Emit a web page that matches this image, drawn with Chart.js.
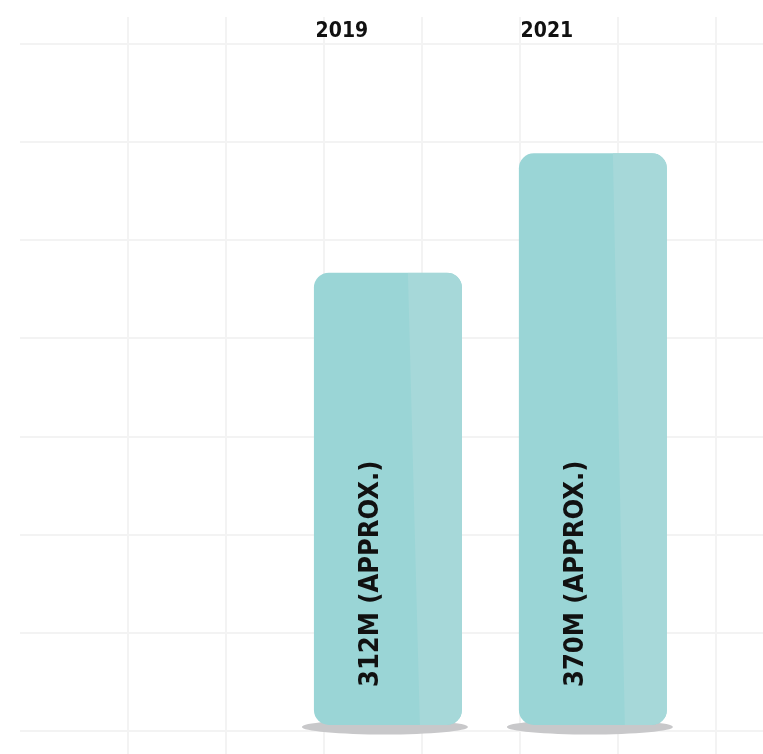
<!DOCTYPE html>
<html>
<head>
<meta charset="utf-8">
<script src="https://cdn.jsdelivr.net/npm/chart.js@4"></script>
<style>
  html, body { margin: 0; padding: 0; background: #ffffff; }
  canvas { display: block; }
</style>
</head>
<body>
<canvas id="chart" width="763" height="754"></canvas>
<script>
// data
const years = [2019, 2021];
const users = [312, 370];
const barText = ['312M (APPROX.)', '370M (APPROX.)'];

const FONT = "'DejaVu Sans Condensed', 'Liberation Sans Narrow', 'Liberation Sans', sans-serif";

// keep only the whole grid steps
function wholeTicks(scale) {
  scale.ticks = scale.ticks.filter(t => t.value >= 0 && Number.isInteger(t.value));
}

// shadow under each bar, lighter right panel and the rotated label
const barDecor = {
  id: 'barDecor',
  beforeDatasetsDraw(chart) {
    const ctx = chart.ctx;
    chart.getDatasetMeta(0).data.forEach(bar => {
      const p = bar.getProps(['x', 'base', 'width'], true);
      ctx.save();
      ctx.fillStyle = '#c8c8ca';
      ctx.beginPath();
      ctx.ellipse(p.x - 3, p.base + 2, p.width / 2 + 9, 7.5, 0, 0, Math.PI * 2);
      ctx.fill();
      ctx.restore();
    });
  },
  afterDatasetsDraw(chart) {
    const ctx = chart.ctx;
    chart.getDatasetMeta(0).data.forEach((bar, i) => {
      const p = bar.getProps(['x', 'y', 'base', 'width'], true);
      const left = p.x - p.width / 2;
      const right = p.x + p.width / 2;
      ctx.save();
      ctx.beginPath();
      ctx.roundRect(left, p.y, p.width, p.base - p.y, 15);
      ctx.clip();
      ctx.fillStyle = '#a6d8d9';
      ctx.beginPath();
      ctx.moveTo(left + p.width * 0.635, p.y);
      ctx.lineTo(right, p.y);
      ctx.lineTo(right, p.base);
      ctx.lineTo(left + p.width * 0.716, p.base);
      ctx.closePath();
      ctx.fill();
      ctx.restore();

      ctx.save();
      ctx.translate(p.x - 17, p.base - 38);
      ctx.rotate(-Math.PI / 2);
      ctx.font = 'bold 27px ' + FONT;
      ctx.fillStyle = '#111111';
      ctx.textAlign = 'left';
      ctx.textBaseline = 'middle';
      ctx.fillText(barText[i], 0, 0);
      ctx.restore();
    });
  }
};

const chart = new Chart(document.getElementById('chart'), {
  type: 'bar',
  data: {
    datasets: [{
      data: years.map((y, i) => ({ x: y, y: users[i] })),
      backgroundColor: '#9ad5d6',
      borderWidth: 0,
      borderRadius: 15,
      borderSkipped: false,
      base: 92.3,
      categoryPercentage: 0.722,
      barPercentage: 1
    }]
  },
  plugins: [barDecor],
  options: {
    responsive: false,
    animation: false,
    devicePixelRatio: 1,
    layout: { padding: { left: 20, top: 17, right: 0, bottom: 0 } },
    plugins: {
      legend: { display: false },
      tooltip: { enabled: false }
    },
    scales: {
      x: {
        type: 'linear',
        position: 'top',
        offset: false,
        min: 2015.41,
        max: 2022.66,
        afterBuildTicks: s => { s.ticks = years.map(v => ({ value: v })); },
        grid: { display: false, drawTicks: false, offset: false },
        border: { display: false },
        ticks: {
          mirror: true,
          padding: 0,
          z: 1,
          labelOffset: -46,
          color: '#111111',
          font: { family: FONT, size: 21, weight: 'bold', lineHeight: '30px' },
          callback: v => String(v)
        }
      },
      y: {
        type: 'linear',
        display: false,
        min: 78.2,
        max: 436.2
      },
      gx: {
        type: 'linear',
        axis: 'x',
        position: 'bottom',
        offset: false,
        min: -1.102,
        max: 6.48,
        afterBuildTicks: wholeTicks,
        grid: { color: '#f3f3f3', lineWidth: 2, drawTicks: false, offset: false },
        border: { display: false },
        ticks: { display: false, stepSize: 1 }
      },
      gy: {
        type: 'linear',
        axis: 'y',
        position: 'left',
        min: -0.234,
        max: 7.275,
        afterBuildTicks: wholeTicks,
        grid: { color: '#f3f3f3', lineWidth: 2, drawTicks: false },
        border: { display: false },
        ticks: { display: false, stepSize: 1 }
      }
    }
  }
});
</script>
</body>
</html>
